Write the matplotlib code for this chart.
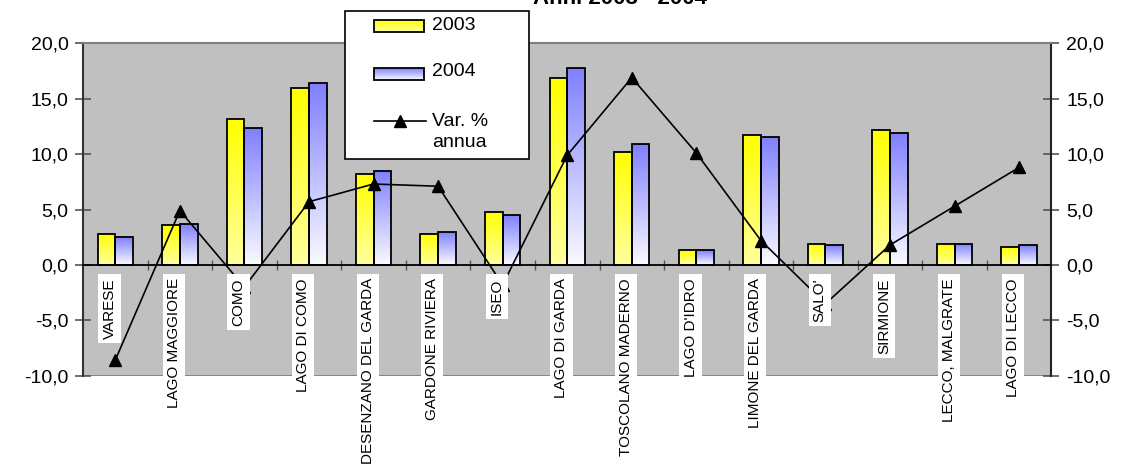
import numpy as np
import matplotlib
matplotlib.use('Agg')
import matplotlib.pyplot as plt
from matplotlib.patches import Rectangle
from matplotlib.lines import Line2D

plt.rcParams['font.family'] = ['Liberation Sans', 'DejaVu Sans']

localita = ['VARESE', 'LAGO MAGGIORE', 'COMO', 'LAGO DI COMO', 'DESENZANO DEL GARDA',
            'GARDONE RIVIERA', 'ISEO', 'LAGO DI GARDA', 'TOSCOLANO MADERNO', "LAGO D'IDRO",
            'LIMONE DEL GARDA', "SALO'", 'SIRMIONE', 'LECCO, MALGRATE', 'LAGO DI LECCO']
v2003 = [2.8, 3.6, 13.2, 16.0, 8.2, 2.8, 4.8, 16.9, 10.2, 1.3, 11.7, 1.9, 12.2, 1.9, 1.6]
v2004 = [2.5, 3.7, 12.4, 16.4, 8.5, 3.0, 4.5, 17.8, 10.9, 1.3, 11.5, 1.8, 11.9, 1.9, 1.8]
var_pct = [-8.6, 4.9, -2.0, 5.7, 7.3, 7.1, -1.8, 9.9, 16.9, 10.1, 2.2, -3.5, 1.8, 5.3, 8.8]
yticks = [-10, -5, 0, 5, 10, 15, 20]
serie = ['2003', '2004', 'Var. %\nannua']

W, H = 1126, 468
fig = plt.figure(figsize=(W / 100, H / 100), dpi=100)
ax = fig.add_axes([0.0737, 0.1972, 0.8601, 0.7103])
ax.set_facecolor('#C0C0C0')

x = np.arange(len(localita))
w = 0.274
giallo = (np.array([1.0, 1.0, 0.0]), np.array([1.0, 1.0, 0.62]))
blu = (np.array([0.5, 0.5, 1.0]), np.array([0.98, 0.98, 1.0]))


def gradiente(top, bottom):
    g = np.linspace(0, 1, 100)[:, None, None]
    img = bottom[None, None, :] * (1 - g) + top[None, None, :] * g
    return np.repeat(img, 2, axis=1)


def gradient_bars(xpos, vals, col):
    bars = ax.bar(xpos, vals, w, facecolor='none', edgecolor='black', linewidth=1.3, zorder=3)
    img = gradiente(*col)
    for b in bars:
        x0, y0 = b.get_x(), b.get_y()
        im = ax.imshow(img, extent=[x0, x0 + b.get_width(), y0, y0 + b.get_height()],
                       origin='lower', aspect='auto', zorder=2)
        im.set_clip_path(b)
    return bars


gradient_bars(x - w / 2, v2003, giallo)
gradient_bars(x + w / 2, v2004, blu)

ax.plot(x, var_pct, color='black', lw=1.2, marker='^', ms=9, zorder=4)

for i, name in enumerate(localita):
    ax.text(i - 0.09, -1.2, name, rotation=90, ha='center', va='top', fontsize=11,
            zorder=6, bbox=dict(facecolor='white', edgecolor='none', pad=3))

ax.set_xlim(-0.5, len(localita) - 0.5)
ax.set_ylim(-10, 20)
ax.set_yticks(yticks)
ax.set_yticklabels([f'{v:.1f}'.replace('.', ',') for v in yticks], fontsize=14)
ax.tick_params(axis='y', direction='inout', length=11, width=1.2, color='#555555',
               left=True, right=True, labelleft=True, labelright=True, pad=5)

ax.spines['bottom'].set_position(('data', 0))
ax.spines['bottom'].set_linewidth(1.3)
ax.spines['bottom'].set_zorder(3.5)
ax.set_xticks(np.arange(0.5, len(localita) - 1))
ax.set_xticklabels([])
ax.tick_params(axis='x', direction='inout', length=7, width=1.0, color='#555555')
ax.spines['top'].set_color('#808080')
ax.spines['top'].set_linewidth(1.5)
ax.spines['left'].set_color('#333333')
ax.spines['right'].set_color('#222222')
ax.spines['left'].set_linewidth(1.5)
ax.spines['right'].set_linewidth(1.5)
ax.axhline(-10, color='#808080', lw=2, zorder=1)


# legenda disegnata a mano (coordinate in pixel della figura)
def fx(px):
    return px / W


def fy(py):
    return 1 - py / H


tf = fig.transFigure
ax.add_patch(Rectangle((fx(345), fy(159)), fx(184), 148 / H, transform=tf, clip_on=False,
                       facecolor='white', edgecolor='black', lw=1.2, zorder=10))
for py, col in [(26, giallo), (74, blu)]:
    img = gradiente(*col)
    im = ax.imshow(img, extent=[fx(374), fx(424), fy(py + 6), fy(py - 6)], transform=tf,
                   origin='lower', aspect='auto', zorder=11, clip_on=False)
    ax.add_patch(Rectangle((fx(374), fy(py + 6)), fx(50), 12 / H, transform=tf,
                           clip_on=False, facecolor='none', edgecolor='black', lw=1.3,
                           zorder=12))
ax.add_line(Line2D([fx(374), fx(426)], [fy(121), fy(121)], transform=tf, clip_on=False,
                   color='black', lw=1.2, zorder=12))
ax.add_line(Line2D([fx(400)], [fy(121)], transform=tf, clip_on=False, color='black',
                   marker='^', ms=9, zorder=12))
for py, txt in zip([26, 72, 132], serie):
    fig.text(fx(432), fy(py), txt, ha='left', va='center', fontsize=14, zorder=13,
             linespacing=1.35)

fig.text(0.5502, 0.991, 'Anni 2003 - 2004', ha='center', va='baseline',
         fontsize=16, fontweight='bold')

fig.savefig('out.png', dpi=100)
